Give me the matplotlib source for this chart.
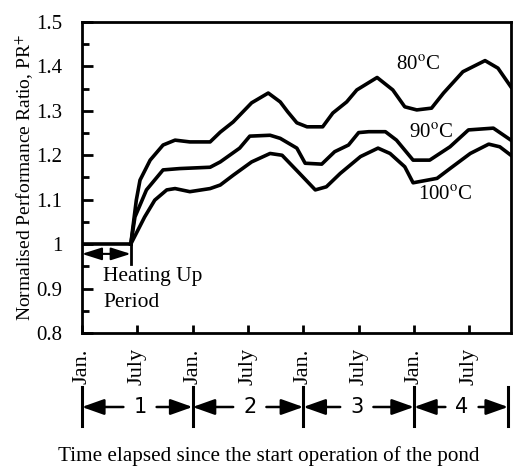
import matplotlib
matplotlib.use("Agg")
import matplotlib.pyplot as plt
from matplotlib.ticker import MultipleLocator

plt.rcParams["font.family"] = ["Liberation Serif", "DejaVu Serif"]
plt.rcParams["mathtext.fontset"] = "stix"

# months since start (Jan. of year 1 = 0)
heat_x = [0, 5.3]
heat_y = [1.0, 1.0]

x80 = [5.3, 5.9, 6.3, 7.4, 8.8, 10.1, 11.7, 13.9, 15.0, 16.4, 18.4, 20.2, 21.5, 22.3,
       23.3, 24.4, 26.1, 27.2, 28.7, 29.8, 32.0, 33.7, 35.0, 36.3, 37.9, 39.2, 41.3,
       43.7, 45.1, 46.5]
y80 = [1.0, 1.099, 1.144, 1.189, 1.223, 1.234, 1.230, 1.230, 1.252, 1.275, 1.318, 1.340,
       1.320, 1.298, 1.273, 1.264, 1.264, 1.295, 1.320, 1.347, 1.375, 1.347, 1.309, 1.302,
       1.306, 1.340, 1.388, 1.413, 1.396, 1.354]

x90 = [5.3, 5.75, 7.0, 8.8, 10.6, 13.9, 15.0, 17.1, 18.2, 20.4, 21.5, 23.3, 24.2, 26.0,
       27.4, 28.9, 30.0, 31.1, 32.9, 34.1, 35.9, 37.7, 39.9, 41.9, 44.6, 46.5]
y90 = [1.0, 1.061, 1.122, 1.167, 1.170, 1.173, 1.185, 1.216, 1.243, 1.245, 1.238, 1.216,
       1.182, 1.180, 1.208, 1.223, 1.251, 1.253, 1.253, 1.234, 1.189, 1.189, 1.219, 1.257,
       1.261, 1.234]

x100 = [5.3, 6.8, 7.9, 9.2, 10.1, 11.7, 13.9, 15.0, 16.4, 18.4, 20.4, 21.7, 23.6, 25.3,
        26.5, 28.0, 30.2, 32.1, 33.4, 35.0, 35.9, 38.5, 39.9, 42.1, 44.1, 45.3, 46.5]
y100 = [1.0, 1.061, 1.099, 1.122, 1.125, 1.118, 1.125, 1.133, 1.155, 1.185, 1.204, 1.200,
        1.159, 1.122, 1.129, 1.159, 1.197, 1.216, 1.204, 1.174, 1.138, 1.148, 1.170, 1.204,
        1.225, 1.219, 1.200]

tick_pos = [0, 6, 12, 18, 24, 30, 36, 42]
tick_lab = ["Jan.", "July", "Jan.", "July", "Jan.", "July", "Jan.", "July"]
ytick_pos = [0.8, 0.9, 1.0, 1.1, 1.2, 1.3, 1.4, 1.5]
ytick_lab = ["0.8", "0.9", "1", "1.1", "1.2", "1.3", "1.4", "1.5"]

year_bounds = [0, 12, 24, 36, 46.2]
year_mid = [6.3, 18.2, 29.8, 41.2]
year_names = ["1", "2", "3", "4"]

fig = plt.figure(figsize=(5.15, 4.67), dpi=100)
ax = fig.add_axes([0.159, 0.287, 0.833, 0.666])

lw = 2.6
ax.plot(heat_x, heat_y, color="k", lw=lw)
ax.plot(x80, y80, color="k", lw=lw)
ax.plot(x90, y90, color="k", lw=lw)
ax.plot(x100, y100, color="k", lw=lw)

ax.text(36.4, 1.403, r"80$^{\mathrm{o}}$C", fontsize=15, ha="center", va="center")
ax.text(37.9, 1.250, r"90$^{\mathrm{o}}$C", fontsize=15, ha="center", va="center")
ax.text(39.4, 1.110, r"100$^{\mathrm{o}}$C", fontsize=15, ha="center", va="center")

# heating up period marker
ax.annotate("", xy=(0, 0.978), xytext=(5.3, 0.978),
            arrowprops=dict(arrowstyle="<|-|>,head_length=1.2,head_width=0.38",
                            color="k", lw=1.5, shrinkA=0, shrinkB=0))
ax.plot([5.3, 5.3], [1.0, 0.956], color="k", lw=2)
ax.text(2.3, 0.948, "Heating Up\nPeriod", fontsize=15.5, ha="left", va="top",
        linespacing=1.45)

ax.set_xlim(0, 46.5)
ax.set_ylim(0.8, 1.5)
ax.set_xticks(tick_pos)
ax.set_xticklabels(tick_lab, rotation=90, fontsize=16)
ax.set_yticks(ytick_pos)
ax.set_yticklabels(ytick_lab, fontsize=15)
ax.yaxis.set_minor_locator(MultipleLocator(0.05))
ax.tick_params(axis="y", which="major", direction="in", length=8, width=2, pad=14)
ax.tick_params(axis="y", which="minor", direction="in", length=5, width=2)
ax.tick_params(axis="x", which="major", direction="in", length=6, width=2, pad=11)
for s in ax.spines.values():
    s.set_linewidth(2)

ax.set_ylabel(r"Normalised Performance Ratio, PR$^{+}$", fontsize=14, labelpad=0)

# year markers below the axis
trans = ax.get_xaxis_transform()
ry = -0.238
for b in year_bounds:
    ax.plot([b, b], [-0.175, -0.30], transform=trans, color="k", lw=2.2, clip_on=False)
for i in range(4):
    for end in (year_bounds[i], year_bounds[i + 1]):
        side = -1 if end < year_mid[i] else 1
        ax.annotate("", xy=(end, ry), xytext=(year_mid[i] + side * 1.8, ry),
                    xycoords=trans, textcoords=trans, annotation_clip=False,
                    arrowprops=dict(arrowstyle="-|>,head_length=1.35,head_width=0.48",
                                    color="k", lw=1.8, shrinkA=0, shrinkB=0))
    ax.text(year_mid[i], ry, year_names[i], transform=trans, fontsize=15,
            ha="center", va="center", family="DejaVu Sans")

fig.text(0.522, 0.024, "Time elapsed since the start operation of the pond",
         fontsize=15.2, ha="center", va="center")

fig.savefig("out.png", dpi=100)
